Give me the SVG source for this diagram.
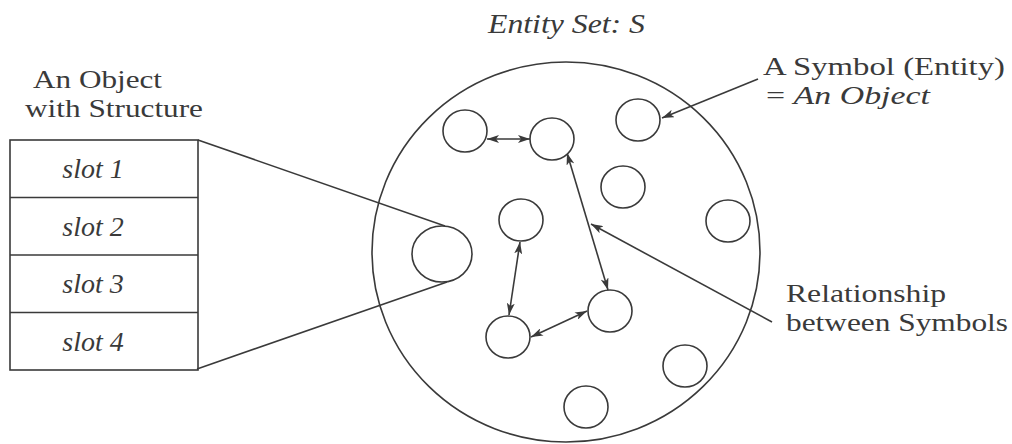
<svg xmlns="http://www.w3.org/2000/svg" width="1012" height="444" viewBox="0 0 1012 444">
<style>
text{font-family:"Liberation Serif","Times New Roman",serif;fill:#3a3a3a;font-size:28px}
.it{font-style:italic}
.lb{font-size:26px}
.s{fill:none;stroke:#3a3a3a;stroke-width:1.6}
.c{fill:#fff;stroke:#3a3a3a;stroke-width:1.6}
</style>
<defs>
<marker id="ah" viewBox="0 0 12 8" refX="12" refY="4" markerWidth="12" markerHeight="8" markerUnits="userSpaceOnUse" orient="auto-start-reverse">
<path d="M0,0 L12,4 L0,8 L3,4 z" fill="#3a3a3a"/>
</marker>
</defs>
<rect width="1012" height="444" fill="#fff"/>

<g id="title"><text class="it" x="488" y="33" textLength="157" lengthAdjust="spacingAndGlyphs">Entity Set: S</text></g>

<g id="entity-set"><ellipse class="s" cx="566" cy="252" rx="194" ry="190"/></g>

<g id="object-label">
<text class="lb" x="33" y="88" textLength="129" lengthAdjust="spacingAndGlyphs">An Object</text>
<text class="lb" x="25" y="117" textLength="178" lengthAdjust="spacingAndGlyphs">with Structure</text>
</g>

<g id="object-table">
<rect class="s" x="10" y="140" width="188" height="230"/>
<line class="s" x1="10" y1="197.5" x2="198" y2="197.5"/>
<line class="s" x1="10" y1="255" x2="198" y2="255"/>
<line class="s" x1="10" y1="312.5" x2="198" y2="312.5"/>
<text class="it" x="93" y="178" text-anchor="middle">slot  1</text>
<text class="it" x="93" y="235.5" text-anchor="middle">slot  2</text>
<text class="it" x="93" y="293" text-anchor="middle">slot  3</text>
<text class="it" x="93" y="350.5" text-anchor="middle">slot  4</text>
</g>

<g id="symbol-label">
<text class="lb" x="763" y="75" textLength="242" lengthAdjust="spacingAndGlyphs">A Symbol  (Entity)</text>
<text class="lb" x="766" y="104" textLength="164" lengthAdjust="spacingAndGlyphs">= <tspan class="it">An Object</tspan></text>
</g>

<g id="relationship-label">
<text class="lb" x="786" y="302" textLength="160" lengthAdjust="spacingAndGlyphs">Relationship</text>
<text class="lb" x="786" y="331" textLength="222" lengthAdjust="spacingAndGlyphs">between Symbols</text>
</g>

<g id="connectors">
<line class="s" x1="198" y1="140" x2="445" y2="226"/>
<line class="s" x1="197" y1="369" x2="447" y2="282"/>
<line class="s" x1="487" y1="139" x2="530" y2="139" marker-start="url(#ah)" marker-end="url(#ah)"/>
<line class="s" x1="567" y1="153" x2="608" y2="290" marker-start="url(#ah)" marker-end="url(#ah)"/>
<line class="s" x1="520" y1="242" x2="509" y2="315" marker-start="url(#ah)" marker-end="url(#ah)"/>
<line class="s" x1="531" y1="337" x2="587" y2="311" marker-start="url(#ah)" marker-end="url(#ah)"/>
<line class="s" x1="772" y1="322" x2="591" y2="224" marker-end="url(#ah)"/>
<line class="s" x1="758" y1="79" x2="662" y2="118" marker-end="url(#ah)"/>
</g>

<g id="symbol-a"><ellipse class="c" cx="465" cy="131" rx="22" ry="21"/></g>
<g id="symbol-b"><ellipse class="c" cx="552" cy="139" rx="22" ry="21"/></g>
<g id="symbol-c"><ellipse class="c" cx="638" cy="120" rx="22" ry="21"/></g>
<g id="symbol-d"><ellipse class="c" cx="623" cy="187" rx="22" ry="21"/></g>
<g id="symbol-e"><ellipse class="c" cx="728" cy="221" rx="22" ry="21"/></g>
<g id="symbol-f"><ellipse class="c" cx="521" cy="220" rx="22" ry="21"/></g>
<g id="symbol-g"><ellipse class="c" cx="442" cy="254" rx="30" ry="28"/></g>
<g id="symbol-h"><ellipse class="c" cx="610" cy="311" rx="22" ry="21"/></g>
<g id="symbol-i"><ellipse class="c" cx="508" cy="337" rx="22" ry="21"/></g>
<g id="symbol-j"><ellipse class="c" cx="685" cy="366" rx="22" ry="21"/></g>
<g id="symbol-k"><ellipse class="c" cx="586" cy="407" rx="22" ry="21"/></g>
</svg>
